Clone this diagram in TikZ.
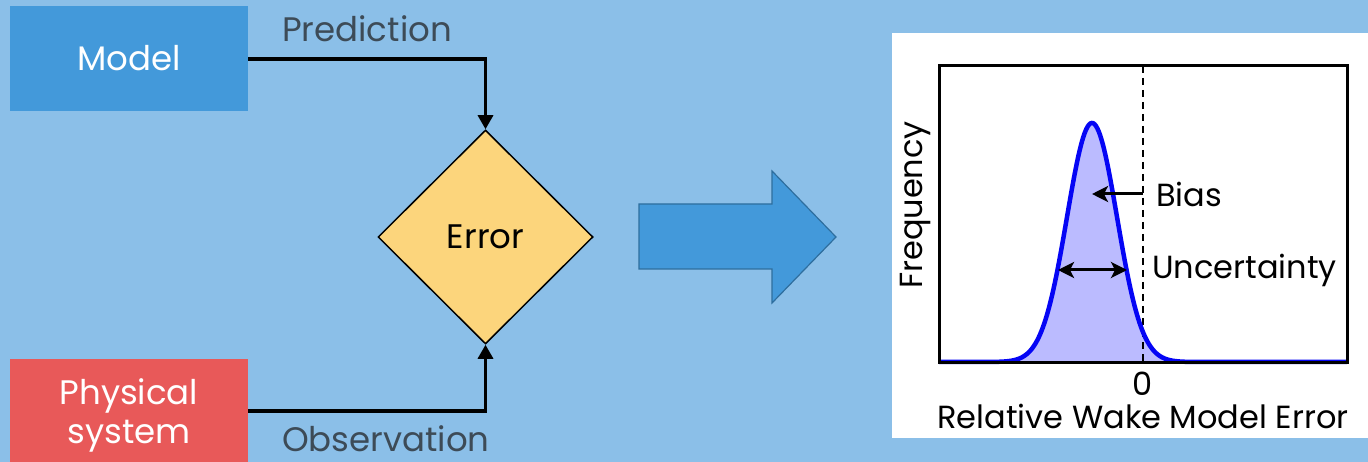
\documentclass[tikz,border=0pt]{standalone}
\usepackage{fontspec}
\setmainfont{Poppins}
\usetikzlibrary{arrows.meta,shapes.geometric}
\definecolor{bgblue}{HTML}{8BBFE8}
\definecolor{modelblue}{HTML}{4399DA}
\definecolor{physred}{HTML}{E85959}
\definecolor{errgold}{HTML}{FCD57C}
\definecolor{labelgray}{HTML}{3D4B57}
\definecolor{arrowedge}{HTML}{2E6E9E}
\definecolor{curveblue}{HTML}{0505F5}
\definecolor{curvefill}{HTML}{BBBBFF}
\tikzset{
  srcbox/.style={rectangle, minimum width=238pt, inner sep=0pt, text=white, align=center,
    font=\fontsize{34}{38}\selectfont},
  flowlabel/.style={text=labelgray, font=\fontsize{34}{38}\selectfont, inner sep=0pt},
  flowline/.style={line width=3.2pt, -{Triangle[width=15pt,length=14pt]}},
  plottext/.style={font=\fontsize{32}{35}\selectfont, inner sep=0pt},
  marker/.style={line width=3pt, {Stealth[width=16pt,length=16pt,inset=4pt]}-{Stealth[width=16pt,length=16pt,inset=4pt]}},
  onemarker/.style={line width=3pt, {Stealth[width=16pt,length=16pt,inset=4pt]}-},
}
\begin{document}
\begin{tikzpicture}[x=1pt,y=-1pt]
  \fill[bgblue] (0,0) rectangle (1368,462);
  \useasboundingbox (0,0) rectangle (1368,462);

  % inputs
  \node[srcbox, fill=modelblue, minimum height=105pt] (model) at (129,58.5) {Model};
  \node[srcbox, fill=physred, minimum height=103pt] (phys) at (129,410.5)
    {\raisebox{-12pt}[0pt][0pt]{\begin{tabular}{@{}c@{}}Physical\\[1pt]system\end{tabular}}};

  % comparison
  \node[diamond, draw=black, line width=1.5pt, fill=errgold, minimum width=215pt, minimum height=214pt,
        inner sep=0pt, font=\fontsize{34}{38}\selectfont] (err) at (485.5,237) {Error};

  \draw[flowline] (model.east |- 0,59) -| (err.north);
  \draw[flowline] (phys.east |- 0,411) -| (err.south);
  \node[flowlabel, anchor=west] (pred) at (282,29) {Prediction};
  \node[flowlabel, anchor=west] (obs) at (282,439) {Observation};

  % transition arrow
  \draw[fill=modelblue, draw=arrowedge, line width=1.2pt]
    (639,204) -- (772,204) -- (772,171) -- (836,237) -- (772,303) -- (772,269) -- (639,269) -- cycle;

  % error distribution panel
  \fill[white] (892,33) rectangle (1368,438);
  \fill[curvefill, domain=939:1347, samples=300]
    (939,362) -- plot (\x,{362-239*exp(-0.5*((\x-1092)/25)^2)}) -- (1347,362) -- cycle;
  \draw[line width=2pt, dashed, dash pattern=on 7pt off 5pt] (1143,66) -- (1143,362);
  \draw[curveblue, line width=4.5pt, domain=939:1347, samples=300]
    plot (\x,{362-239*exp(-0.5*((\x-1092)/25)^2)});
  \draw[line width=3pt] (939,66) rectangle (1347,362);

  \coordinate (peak) at (1092,194);
  \coordinate (zero) at (1143,194);
  \draw[onemarker] (peak) -- (zero);
  \coordinate (lw) at (1058,270);
  \coordinate (rw) at (1127,270);
  \draw[marker] (lw) -- (rw);

  \node[plottext, anchor=west] (bias) at (1156,194) {Bias};
  \node[plottext, anchor=west] (unc) at (1152,270) {Uncertainty};
  \node[plottext] (zlab) at (1143,384) {0};
  \node[plottext] (xlab) at (1143,416) {Relative Wake Model Error};
  \node[plottext, rotate=90] (ylab) at (915,205) {Frequency};
\end{tikzpicture}
\end{document}
